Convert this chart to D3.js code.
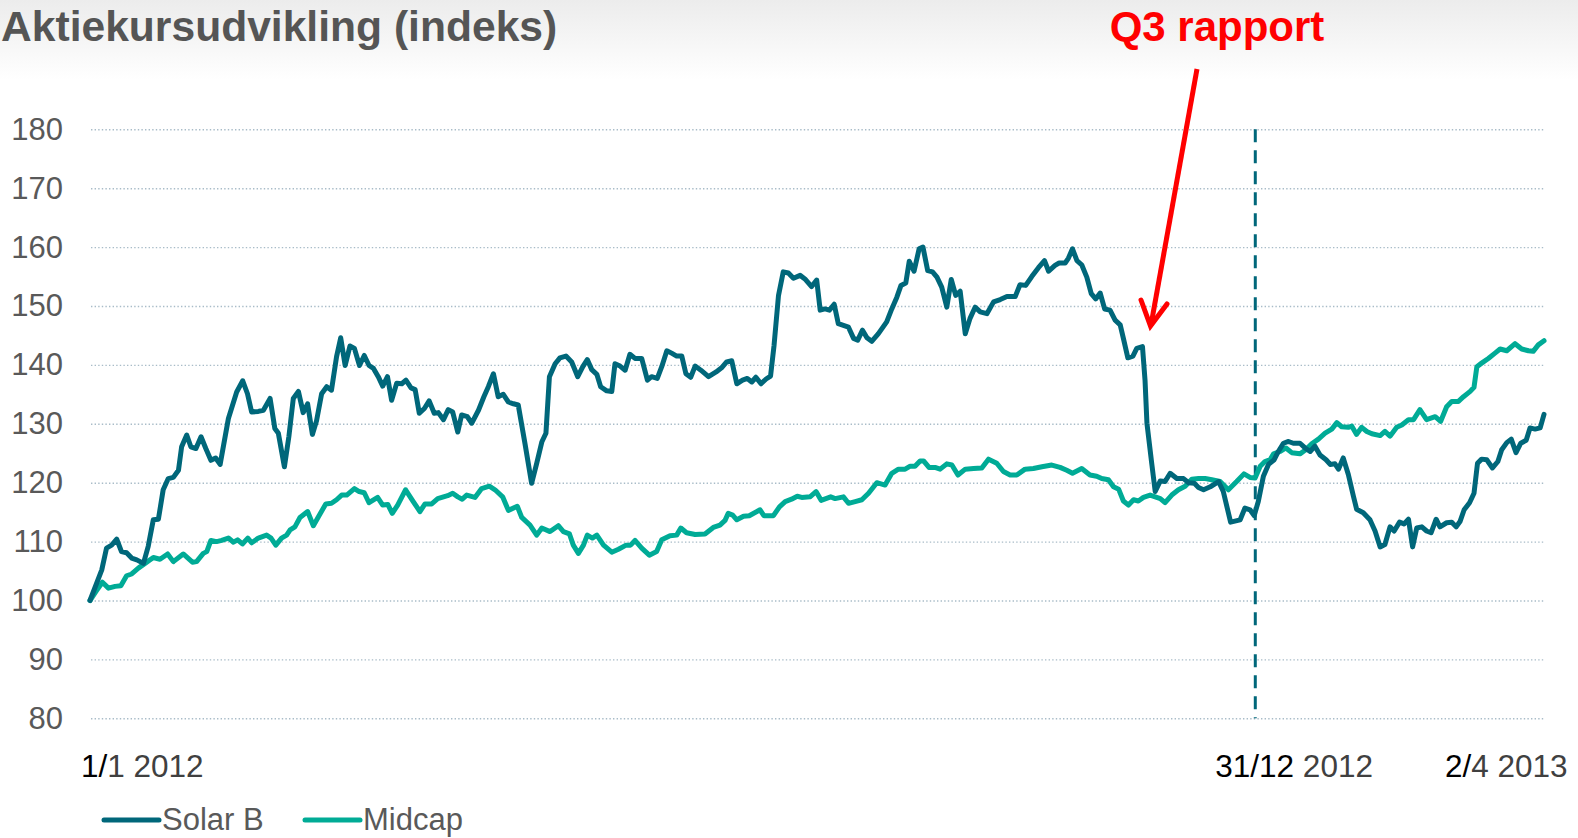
<!DOCTYPE html>
<html>
<head>
<meta charset="utf-8">
<script src="https://cdn.jsdelivr.net/npm/d3@7"></script>
<style>
  body { margin: 0; background: #fff; }
  svg { display: block; font-family: Arial, "Liberation Sans", sans-serif; }
</style>
</head>
<body>
<div id="chart"></div>
<script>
// Data: [days since 1/1 2012, index value]
const solarB = [[0,100],[3.7,105.2],[5.2,108.9],[6.8,109.4],[8.4,110.4],[9.9,108.3],[11.5,108.1],[13.1,107.2],[14.7,106.9],[16.8,106.3],[18.3,109.2],[19.9,113.7],[21.5,113.8],[23,118.8],[24.6,120.7],[26.2,120.9],[27.8,122.1],[28.8,126.1],[30.4,128.1],[31.7,126.1],[33.3,125.8],[34.9,127.8],[36.4,125.8],[38,123.8],[39.5,124.2],[40.9,123.1],[43.5,130.9],[46.1,135.4],[48,137.3],[49.5,135.1],[50.8,132],[52.9,132.1],[54.5,132.3],[56.6,134.3],[58.1,129.2],[59.2,128.4],[61.1,122.7],[62.5,127.8],[63.9,134.3],[65.5,135.5],[67,131.9],[68.4,133.4],[69.9,128.2],[71.2,130.5],[72.8,135.1],[74.4,136.3],[75.9,135.7],[77.5,141.4],[78.8,144.6],[80.2,139.9],[81.7,143.2],[83.1,142.8],[84.7,139.9],[86.2,141.6],[87.7,139.9],[89.1,139.4],[90.6,138],[92,136.4],[93.5,138],[94.8,134],[96.4,136.9],[98,136.8],[99.3,137.4],[100.9,136.1],[102.2,135.8],[103.5,131.8],[105.1,132.6],[106.6,133.9],[108.2,131.8],[109.5,131.9],[111.1,130.7],[112.6,132.4],[114,132],[115.6,128.6],[116.8,131.5],
  [118.6,131.2],[120,130.1],[122.1,132.3],[123.8,134.6],[125.2,136.3],[126.8,138.5],[128.3,134.6],[129.9,135],[131.5,133.7],[133.1,133.4],[134.6,133.2],[136.7,126.7],[138.8,119.9],[140.4,123.3],[142,126.9],[143.3,128.4],[144.4,138],[146.2,140.2],[147.7,141.2],[149.6,141.5],[151.4,140.5],[153.3,138],[154.9,139.7],[156.3,140.9],[157.7,139.2],[159.3,138.4],[160.5,136.3],[162.4,135.6],[164,135.5],[165,140.2],[166.6,139.8],[168.2,139.1],[169.7,141.8],[171.3,141.1],[173.4,141.1],[175.2,137.4],[176.5,138],[178.3,137.7],[179.7,139.7],[181.3,142.4],[182.8,142],[184.4,141.5],[186,141.5],[187.3,138.5],[188.8,137.9],[190.2,139.8],[192,139.1],[194.4,138],[196.8,138.8],[198.5,139.5],[200.1,140.5],[201.7,140.7],[203.3,136.8],[205.1,137.4],[206.6,137.7],[208,137.1],[209.3,137.9],[210.9,136.8],[212.5,137.6],[213.9,138.1],[215,143.3],[216.4,151.8],[217.9,155.8],[219.5,155.6],[221.1,154.7],[223.2,155.2],[224.7,154.6],[226.8,153.3],[228.4,154.4],[229.5,149.3],[231,149.5],[232.4,149.3],[233.9,150.3],
  [235.2,147],[236.8,146.7],[238.4,146.4],[240,144.5],[241.3,144.2],[242.8,145.9],[244.2,144.6],[245.7,144],[247.8,145.3],[250.4,147.3],[252,149.5],[253.6,151.5],[254.9,153.5],[256.4,153.9],[257.5,157.6],[259,155.9],[260.6,159.7],[261.8,160],[263.3,156],[264.8,155.8],[266.2,154.9],[267.7,153.2],[269.3,149.8],[270.7,154.5],[272.1,151.8],[273.5,152.5],[275.1,145.3],[276.6,147.9],[278.2,149.8],[279.8,149],[281.9,148.7],[284,150.7],[286.1,151.1],[288.2,151.6],[290.8,151.6],[292.3,153.6],[294.1,153.5],[296,155],[298.1,156.5],[300,157.7],[301.3,155.9],[303.3,156.9],[304.6,157.3],[306.5,157.3],[307.5,158.1],[308.8,159.7],[310.2,157.7],[311.7,157],[313.3,154.9],[314.7,152.1],[316.1,151.2],[317.5,152.2],[318.9,149.5],[320.6,149.3],[322.2,147.6],[323.8,146.8],[324.8,144.5],[326.2,141.2],[327.8,141.5],[329,142.8],[330.8,143.1],[331.6,137.4],[332.2,130.1],[333.7,123.3],[334.8,118.5],[336.4,120.3],[337.9,120.2],[339.5,121.6],[341.6,120.7],[343.7,120.7],[345.3,120],[347.1,119.9],[348.4,119.2],[350,118.8],[352.1,119.3],
  [354.7,120.2],[356.2,118.5],[358.5,113.3],[361.5,113.7],[363,115.7],[364.6,115.4],[365.9,114.4],[367.2,116.8],[368.8,121.1],[370.4,123.1],[372.2,123.9],[373.5,125.3],[375.1,126.7],[376.7,127],[378.2,126.7],[380.3,126.7],[381.9,125.9],[383.5,125.3],[385,126.2],[386.6,124.7],[388.5,123.9],[389.8,123.1],[391.3,123.2],[392.4,122.3],[393.9,124.2],[395.5,121.4],[397.1,117.7],[398.1,115.5],[400.2,114.9],[402.3,113.7],[403.9,111.8],[405.5,109.1],[407,109.5],[408.6,112.5],[409.9,111.8],[411.6,113.3],[413,113],[414.4,113.8],[415.7,109.1],[417,112.3],[418.6,112.5],[420.1,111.8],[421.5,111.5],[423.1,113.8],[424.3,112.5],[426.4,113.2],[428,113.3],[429.4,112.5],[430.6,113.4],[431.9,115.4],[433.6,116.6],[435,118.2],[436.1,123.3],[437.4,124],[439,123.9],[440.8,122.5],[442.5,123.6],[443.7,125.6],[445.3,126.8],[446.7,127.4],[448.2,125.1],[449.7,126.7],[451.4,127.2],[452.6,129.3],[454.2,129.1],[455.8,129.3],[457,131.6]];

const midcap = [[0,100],[2.1,101.7],[3.9,103.1],[5.8,102.1],[7.9,102.4],[9.7,102.5],[11.5,104.2],[13.1,104.5],[15.2,105.5],[17.3,106.3],[19.9,107.3],[22,107],[24.4,107.9],[26.2,106.6],[29.3,107.9],[32.2,106.5],[33.5,106.6],[35.6,108],[36.7,108.3],[38,110.2],[39.8,110],[41.4,110.2],[43.5,110.6],[45.1,109.9],[46.4,110.3],[47.9,109.6],[49.6,110.6],[50.8,109.8],[52.9,110.6],[55.5,111.1],[56.9,110.6],[58.4,109.4],[60.2,110.6],[61.8,111.1],[62.9,112],[64.4,112.5],[66,114.1],[68.4,115.1],[70.2,112.7],[71.8,114.2],[74.1,116.4],[75.9,116.5],[77.5,117.1],[79.1,117.9],[80.7,117.9],[83.1,119],[84.6,118.5],[86.2,118.3],[87.7,116.6],[90.4,117.5],[92,116.2],[93.6,116.3],[95,114.8],[96.7,116.2],[99.2,118.8],[101.6,116.8],[103.7,115.1],[105.3,116.4],[107.4,116.4],[109.3,117.3],[111.1,117.6],[112.4,117.8],[114,118.2],[115.6,117.6],[117,117.2],
  [118.4,117.9],[121,117.5],[123.1,119],[125.5,119.4],[127.3,118.8],[129.7,117.6],[131.5,115.3],[134.3,116],[135.7,114.1],[138.3,112.8],[140.4,111.1],[142,112.3],[144.6,111.7],[147.2,112.7],[148.8,111.7],[150.7,111.3],[151.9,109.4],[153.5,108],[155.1,109.4],[156.3,111.1],[157.9,110.6],[159.3,111.1],[161.4,109.4],[164,108.2],[166.1,108.7],[168.5,109.4],[169.9,109.4],[171.3,110.2],[173.4,108.9],[175.8,107.7],[178.1,108.3],[179.7,110.3],[182.3,111],[184.4,111.1],[185.7,112.3],[187.5,111.5],[190.2,111.2],[193.3,111.3],[195.9,112.4],[198,112.8],[199.6,113.6],[200.6,114.8],[202,114.5],[203.3,113.7],[205.4,114.3],[207.2,114.4],[210.6,115.4],[211.8,114.4],[214.8,114.4],[216.7,115.9],[218.5,116.8],[220.5,117.2],[222.3,117.7],[223.7,117.5],[226.3,117.6],[228.2,118.5],[229.8,117],[232.8,117.6],[234.2,117.3],
  [236.8,117.6],[238.4,116.5],[240.5,116.8],[242.6,117.1],[244.7,118.2],[247.3,120],[249.9,119.6],[252,121.6],[254.1,122.3],[256.2,122.3],[257.8,122.8],[259.3,122.8],[260.9,123.7],[262,123.7],[263.7,122.6],[265.6,122.6],[267.2,122.3],[269.3,123.2],[270.9,123],[272.8,121.3],[275.1,122.3],[277.7,122.4],[280.3,122.5],[282.4,124],[285,123.3],[287.1,121.9],[289.2,121.3],[291.3,121.3],[293.9,122.3],[296.5,122.4],[299.2,122.7],[302.3,123],[304.9,122.6],[307,122.1],[308.8,121.6],[311.7,122.4],[314.3,121.3],[316.4,121.1],[318,120.7],[320.1,120.5],[321.7,119.3],[323.3,118.9],[324.8,116.9],[326.4,116.2],[328,117.1],[329.5,116.9],[331.1,117.5],[333.2,117.9],[334.8,117.6],[336.4,117.3],[337.9,116.6],[340,117.9],[342.1,118.8],[344.2,119.4],[346.3,120.6],[348.4,120.7],[350.5,120.7],[352.6,120.5],
  [355.2,120.2],[357.8,118.8],[360.4,120.2],[362.7,121.5],[364.6,120.9],[366.2,120.8],[367.8,122.8],[369.3,123.6],[370.9,123.9],[372,124.9],[374,125.3],[375.9,125.9],[377.7,125.1],[380.3,124.9],[381.9,125.5],[384,126.6],[386.1,127.4],[388.2,128.4],[390.3,129.1],[391.9,130.2],[393.4,129.5],[395.5,129.4],[396.6,129.6],[398.1,128.2],[399.7,129.4],[401.3,128.7],[402.9,128.3],[405.5,128],[407,128.7],[408.6,127.9],[410.7,129.4],[412.3,129.8],[414.4,130.7],[416,130.7],[418,132.4],[420.1,130.7],[422.8,131.2],[424.5,130.4],[426.4,132.9],[428,133.8],[430.1,133.8],[431.7,134.6],[433.8,135.5],[435,136.2],[435.9,139.7],[437.4,140.3],[439.5,141.1],[441.6,142],[443.2,142.7],[445.3,142.4],[447.9,143.6],[450,142.7],[452.1,142.4],[453.6,142.3],[455.2,143.4],[457,144.1]];

const yTicks = [80, 90, 100, 110, 120, 130, 140, 150, 160, 170, 180];
// x labels: [date, dark part, grey part]
const xLabels = [["2012-01-01", "1/", "1 2012"], ["2012-12-31", "31/12", " 2012"], ["2013-04-02", "2/", "4 2013"]];
const xLabelShift = [-9, -36, -99];
const seriesNames = ["Solar B", "Midcap"];
const colors = ["#00677a", "#00ab96"];

const width = 1578, height = 838;
const startDate = new Date(2012, 0, 1);
const toDate = d => new Date(startDate.getTime() + d * 864e5);

const svg = d3.select("#chart").append("svg")
    .attr("width", width)
    .attr("height", height);

// light grey band behind the title
const grad = svg.append("defs").append("linearGradient")
    .attr("id", "topband").attr("x1", 0).attr("x2", 0).attr("y1", 0).attr("y2", 1);
grad.append("stop").attr("offset", "0%").attr("stop-color", "#ececec");
grad.append("stop").attr("offset", "100%").attr("stop-color", "#ffffff");
svg.append("rect").attr("width", width).attr("height", 80).attr("fill", "url(#topband)");

// scales
const x = d3.scaleTime()
    .domain([startDate, new Date(2013, 3, 2)])
    .range([90, 1544]);

const y = d3.scaleLinear()
    .domain([80, 180])
    .range([718.3, 129.3]);

// y axis with dotted grid
const yAxis = svg.append("g")
    .attr("transform", "translate(91,0)")
    .call(d3.axisLeft(y).tickValues(yTicks).tickSize(-1454).tickPadding(28));
yAxis.select(".domain").remove();
yAxis.selectAll("line")
    .attr("stroke", "#a9bcc8")
    .attr("stroke-width", 1.4)
    .attr("stroke-dasharray", "1.4 2.2");
yAxis.selectAll("text")
    .attr("fill", "#595959")
    .style("font-size", "31px")
    .style("font-family", "Arial, 'Liberation Sans', sans-serif");

// dashed year-end marker
const yearEnd = new Date(2012, 11, 31);
svg.append("line")
    .attr("x1", x(yearEnd) + 4).attr("x2", x(yearEnd) + 4)
    .attr("y1", y(180)).attr("y2", y(80))
    .attr("stroke", "#00677a")
    .attr("stroke-width", 3)
    .attr("stroke-dasharray", "13 8");

// lines
const line = d3.line()
    .x(d => x(toDate(d[0])))
    .y(d => y(d[1]))
    .curve(d3.curveLinear);

[midcap, solarB].forEach((data, i) => {
    svg.append("path")
        .datum(data)
        .attr("d", line)
        .attr("fill", "none")
        .attr("stroke", i === 0 ? colors[1] : colors[0])
        .attr("stroke-width", 5)
        .attr("stroke-linejoin", "round")
        .attr("stroke-linecap", "round");
});

// x labels
xLabels.forEach((l, i) => {
    const t = svg.append("text")
        .attr("x", x(d3.timeParse("%Y-%m-%d")(l[0])) + xLabelShift[i])
        .attr("y", 777)
        .style("font-size", "31.5px");
    t.append("tspan").attr("fill", "#000").text(l[1]);
    t.append("tspan").attr("fill", "#404040").attr("xml:space", "preserve").text(l[2]);
});

// title
svg.append("text")
    .attr("x", 1)
    .attr("y", 41)
    .attr("fill", "#555555")
    .style("font-size", "42.6px")
    .style("font-weight", "bold")
    .text("Aktiekursudvikling (indeks)");

// Q3 annotation
svg.append("text")
    .attr("x", 1217)
    .attr("y", 41)
    .attr("text-anchor", "middle")
    .attr("fill", "#ff0000")
    .style("font-size", "42px")
    .style("font-weight", "bold")
    .text("Q3 rapport");

svg.append("line")
    .attr("x1", 1197).attr("y1", 69)
    .attr("x2", 1151).attr("y2", 325)
    .attr("stroke", "#ff0000")
    .attr("stroke-width", 5);
svg.append("path")
    .attr("d", "M1141,300 L1150.5,326 L1167,304")
    .attr("fill", "none")
    .attr("stroke", "#ff0000")
    .attr("stroke-width", 5)
    .attr("stroke-linecap", "round")
    .attr("stroke-linejoin", "miter");

// legend
const legendX = [104, 305];
seriesNames.forEach((name, i) => {
    const g = svg.append("g").attr("transform", `translate(${legendX[i]},820)`);
    g.append("line")
        .attr("x1", 0).attr("x2", 55)
        .attr("stroke", colors[i])
        .attr("stroke-width", 5)
        .attr("stroke-linecap", "round");
    g.append("text")
        .attr("x", 58)
        .attr("y", 10)
        .attr("fill", "#595959")
        .style("font-size", "31px")
        .text(name);
});
</script>
</body>
</html>
